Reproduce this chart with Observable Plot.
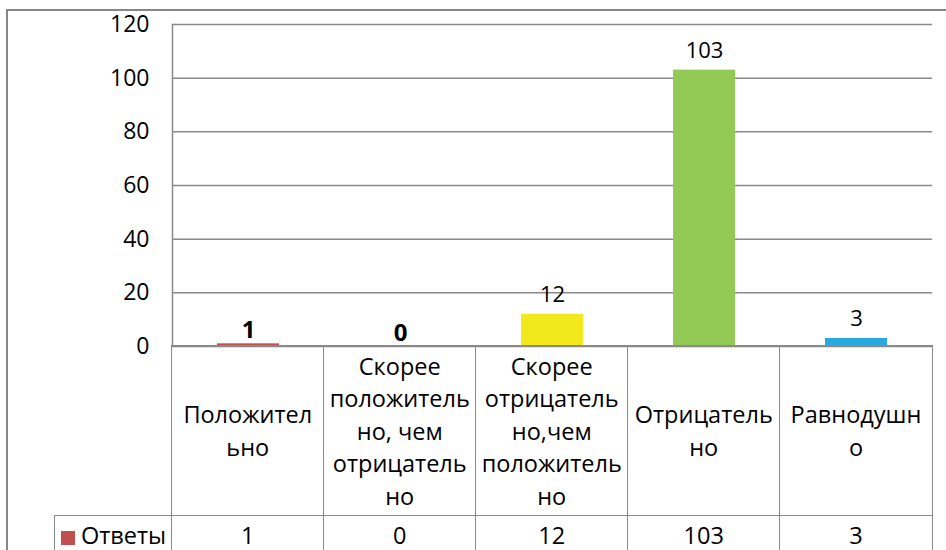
<!DOCTYPE html>
<html><head><meta charset="utf-8">
<script src="https://cdn.jsdelivr.net/npm/d3@7"></script>
<script src="https://cdn.jsdelivr.net/npm/@observablehq/plot@0.6"></script>
<style>
body{margin:0;background:#fff;font-family:"Open Sans",sans-serif;color:#000;}
#wrap{position:relative;width:946px;height:550px;overflow:hidden;background:#fff;}
#outer{position:absolute;left:6px;top:9px;width:1000px;height:700px;border-left:2px solid #878787;border-top:2px solid #878787;box-sizing:border-box;}
#chart{position:absolute;left:0;top:0;}
.cell{position:absolute;box-sizing:border-box;border-left:1.5px solid #898989;border-top:1.5px solid #898989;display:flex;flex-direction:column;align-items:center;justify-content:center;text-align:center;font-size:23.5px;line-height:32.5px;white-space:nowrap;}
.sw{display:inline-block;width:14px;height:14px;margin-right:6px;vertical-align:-1px;}
</style></head><body>
<div id="wrap"><div id="outer"></div><div id="chart"></div></div>
<script>
const categories = ["Положительно", "Скорее положительно, чем отрицательно", "Скорее отрицательно,чем положительно", "Отрицательно", "Равнодушно"];
const categoryLines = [
  ["Положител", "ьно"],
  ["Скорее", "положитель", "но, чем", "отрицатель", "но"],
  ["Скорее", "отрицатель", "но,чем", "положитель", "но"],
  ["Отрицатель", "но"],
  ["Равнодушн", "о"]
];
const values = [1, 0, 12, 103, 3];
const seriesName = "Ответы";
const yTicks = [0, 20, 40, 60, 80, 100, 120];
const barColors = ["#C0504D", "#C0504D", "#F1E91C", "#93CA55", "#28A9E0"];
const seriesColor = "#C0504D";

const data = categories.map((c, i) => ({category: c, value: values[i]}));
const grid = "#898989";

const chart = Plot.plot({
  width: 946, height: 348,
  marginLeft: 172, marginRight: 14, marginTop: 24, marginBottom: 2,
  style: {fontFamily: "Open Sans", fontSize: "23px", background: "transparent", overflow: "visible", color: "#000"},
  x: {domain: categories, padding: 0, axis: null},
  y: {domain: [0, 120], axis: null},
  color: {domain: categories, range: barColors},
  marks: [
    Plot.ruleY(yTicks, {stroke: grid, strokeWidth: 1.5}),
    Plot.frame({anchor: "left", stroke: grid, strokeWidth: 1.5}),
    Plot.barY(data, {x: "category", y: "value", fill: "category", insetLeft: 45, insetRight: 45}),
    Plot.text(data.filter(d => d.value <= 1), {x: "category", y: "value", text: d => String(d.value), fontWeight: "bold", fontSize: 24, lineAnchor: "bottom", dy: -6, fill: "#000"}),
    Plot.text(data.filter(d => d.value > 1), {x: "category", y: "value", text: d => String(d.value), fontSize: 22, lineAnchor: "bottom", dy: -12, fill: "#000"}),
    Plot.axisY({ticks: yTicks, tickSize: 0, tickPadding: 23, label: null, fontSize: 23, tickFormat: d => String(d)})
  ]
});
document.getElementById("chart").appendChild(chart);

const x = chart.scale("x");
const bw = x.bandwidth;
const wrap = document.getElementById("wrap");
const x0s = categories.map(c => x.apply(c));
const tableTop = 346, catH = 170, rowH = 38;

function cell(left, top, w, h, html, extra) {
  const d = document.createElement("div");
  d.className = "cell";
  d.style.left = left + "px"; d.style.top = top + "px";
  d.style.width = w + "px"; d.style.height = h + "px";
  if (extra) Object.assign(d.style, extra);
  d.innerHTML = html;
  wrap.appendChild(d);
  return d;
}
categories.forEach((c, i) => {
  const last = i === categories.length - 1;
  const ex = last ? {borderRight: "1.5px solid " + grid, width: (bw + 1.5) + "px"} : null;
  cell(x0s[i] - 0.75, tableTop - 0.75, bw, catH, categoryLines[i].map(l => "<div>" + l + "</div>").join(""), ex);
  cell(x0s[i] - 0.75, tableTop + catH - 0.75, bw, rowH, "<div>" + values[i] + "</div>", ex);
});
const legendLeft = 54;
cell(legendLeft, tableTop + catH - 0.75, x0s[0] - legendLeft, rowH,
  '<div><span class="sw" style="background:' + seriesColor + '"></span>' + seriesName + '</div>');
</script>
</body></html>
